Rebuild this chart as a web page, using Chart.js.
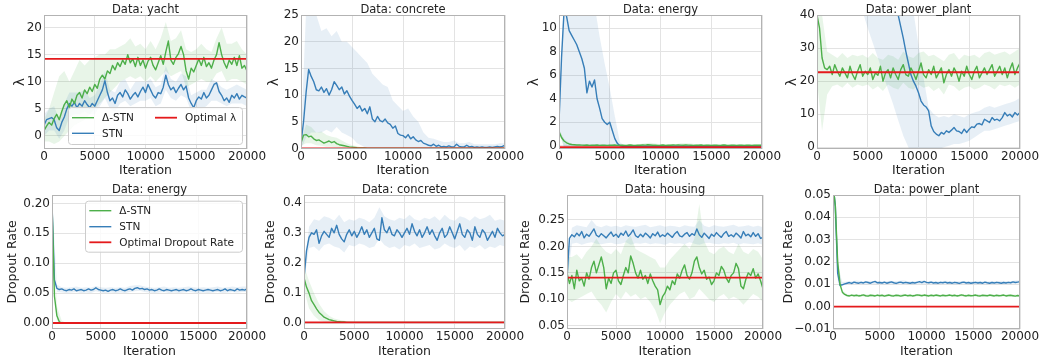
<!DOCTYPE html>
<html><head><meta charset="utf-8">
<script src="https://cdn.jsdelivr.net/npm/chart.js@4/dist/chart.umd.min.js"></script>
<style>
html,body{margin:0;padding:0;background:#fff;}
#fig{position:relative;width:1052px;height:360px;overflow:hidden;background:#fff;}
#fig canvas{position:absolute;}
</style></head><body><div id="fig"></div>
<script>
// ---------------- shared categories / ticks ----------------
const iterations = [
 0,250,500,750,1000,1250,1500,1750,2000,2250,
 2500,2750,3000,3250,3500,3750,4000,4250,4500,4750,
 5000,5250,5500,5750,6000,6250,6500,6750,7000,7250,
 7500,7750,8000,8250,8500,8750,9000,9250,9500,9750,
 10000,10250,10500,10750,11000,11250,11500,11750,12000,12250,
 12500,12750,13000,13250,13500,13750,14000,14250,14500,14750,
 15000,15250,15500,15750,16000,16250,16500,16750,17000,17250,
 17500,17750,18000,18250,18500,18750,19000,19250,19500,19750,
 20000];
const bandIterations = [
 0,500,1000,1500,2000,2500,3000,3500,4000,4500,
 5000,5500,6000,6500,7000,7500,8000,8500,9000,9500,
 10000,10500,11000,11500,12000,12500,13000,13500,14000,14500,
 15000,15500,16000,16500,17000,17500,18000,18500,19000,19500,
 20000];
const xTicks = [0, 5000, 10000, 15000, 20000];
const xTickLabels = ['0', '5000', '10000', '15000', '20000'];
const seriesNames = ['Δ-STN', 'STN'];

// ---------------- yacht (lambda) ----------------
const yachtDelta = [
 1.0, 1.8, 2.5, 2.0, 3.2, 4.0, 3.0, 4.5, 5.8, 6.5,
 5.2, 6.8, 6.0, 7.5, 8.0, 7.0, 8.5, 7.8, 9.0, 8.2,
 9.5, 8.8, 10.5, 11.2, 10.5, 12.0, 11.5, 13.0, 12.2, 13.5,
 12.8, 14.0, 13.2, 15.0, 13.5, 14.2, 12.8, 14.5, 13.0, 14.0,
 12.5, 13.8, 14.5, 13.0, 12.2, 13.5, 14.8, 13.2, 15.5, 17.5,
 14.0, 13.2, 14.5, 15.2, 16.5, 15.0, 12.0, 10.5, 12.5, 11.8,
 13.0, 14.2, 13.0, 14.5, 12.8, 13.5, 12.5, 14.0, 15.0, 17.2,
 15.0, 13.5, 12.5, 14.0, 13.2, 14.5, 13.0, 14.8, 12.5, 13.0,
 12.0];
const yachtStn = [
 2.0, 3.0, 3.2, 3.4, 3.0, 1.5, 1.0, 2.5, 3.5, 5.0,
 6.0, 5.5, 6.2, 5.2, 6.0, 5.5, 6.5, 5.8, 5.2, 6.0,
 5.5, 6.5, 7.5, 8.5, 10.2, 8.0, 6.5, 7.0, 6.0, 7.5,
 8.0, 7.2, 8.5, 7.8, 6.8, 7.5, 8.0, 7.2, 8.2, 9.0,
 8.0, 9.5, 8.5, 7.5, 7.0, 8.0, 7.8, 9.0, 11.2, 9.5,
 8.5, 9.0, 8.0, 8.8, 9.5, 8.5, 9.2, 7.0, 6.0, 5.2,
 6.5, 7.2, 6.8, 8.0, 7.0, 7.5, 8.5, 9.5, 9.8, 8.2,
 7.5, 6.5, 7.0, 6.2, 7.5, 7.0, 7.8, 6.8, 7.5, 7.2,
 7.0];
const yachtDeltaLo = [
 -1, -1, -1.5, -1, 0, 1, 2, 2.5, 3, 4,
 5, 6, 7, 8, 9, 10, 10.5, 11, 10.5, 11,
 10, 11, 10, 11, 12, 11, 11.5, 12, 9, 9.5,
 10, 10.5, 10, 10, 11.5, 12, 10, 10.5, 10.5, 10,
 9.5];
const yachtDeltaHi = [
 3, 5, 8, 11, 12, 10, 12, 14, 13, 14,
 14.5, 15, 15, 16, 16, 16.5, 17, 18, 16.5, 17,
 16, 17.5, 16, 18, 21, 17.5, 18, 19.5, 16, 15.5,
 16, 17, 16, 15.5, 18, 20, 17, 17, 17.5, 16,
 15];
const yachtStnLo = [
 0, 1, 1, -0.5, 1, 3.5, 4, 4, 4.5, 4,
 4, 5.5, 7, 5, 4.5, 6, 6.5, 5.5, 6, 6.5,
 6.5, 7, 5.5, 6, 8.5, 7, 6.5, 7.5, 7, 4.5,
 5, 5, 5.5, 6.5, 6.5, 6, 5.5, 6, 6, 6,
 5.5];
const yachtStnHi = [
 4, 5, 5.5, 3, 6, 8, 8, 8, 8.5, 7,
 7.5, 9.5, 12, 8.5, 8, 10, 10.5, 8.5, 10, 10,
 10, 10.5, 9, 9.5, 13, 10.5, 10, 11.5, 11, 7.5,
 8, 8.5, 8.5, 10.5, 10, 9, 8.5, 9, 9.5, 9,
 8.5];
const yachtOptimal = 14.2;
const yachtTicks = [0, 5, 10, 15, 20];
const yachtTickLabels = ['0', '5', '10', '15', '20'];

// ---------------- concrete (lambda) ----------------
const concreteStn = [
 1.0, 5.0, 10.5, 14.8, 13.5, 12.5, 11.0, 10.8, 11.5, 10.5,
 11.2, 10.0, 11.0, 12.5, 11.8, 11.0, 11.5, 10.2, 10.8, 9.8,
 9.0, 8.3, 7.5, 8.0, 7.0, 7.5, 6.5, 7.8, 5.5, 5.0,
 6.0, 5.2, 5.0, 5.5, 4.8, 4.5, 3.8, 4.2, 2.8, 2.5,
 2.4, 2.0, 2.6, 1.8, 2.2, 1.6, 1.3, 1.5, 1.0, 0.8,
 0.6, 0.5, 0.8, 0.4, 0.6, 0.3, 0.4, 0.3, 0.5, 0.3,
 0.3, 0.8, 0.4, 0.3, 0.3, 0.6, 0.3, 0.4, 0.2, 0.3,
 0.2, 0.3, 0.2, 0.2, 0.3, 0.2, 0.3, 0.4, 0.3, 0.4,
 0.6];
const concreteDelta = [
 1.0, 2.5, 2.6, 2.2, 2.3, 1.8, 1.5, 1.6, 1.3, 1.0,
 1.2, 1.4, 1.1, 1.3, 0.9, 0.7, 0.6, 0.5, 0.4, 0.3,
 0.25, 0.2, 0.15, 0.12, 0.1, 0.08, 0.07, 0.06, 0.05, 0.06,
 0.05, 0.04, 0.05, 0.06, 0.04, 0.05, 0.04, 0.05, 0.06, 0.05,
 0.04, 0.05, 0.06, 0.05, 0.04, 0.05, 0.05, 0.04, 0.06, 0.05,
 0.05, 0.04, 0.05, 0.06, 0.04, 0.05, 0.04, 0.05, 0.06, 0.05,
 0.04, 0.05, 0.05, 0.06, 0.04, 0.05, 0.04, 0.06, 0.05, 0.04,
 0.05, 0.04, 0.05, 0.06, 0.04, 0.05, 0.05, 0.04, 0.06, 0.05,
 0.05];
const concreteStnLo = [
 0, 2, 3, 3, 3, 3.5, 3, 4, 3, 2.5,
 2, 1, 0.5, 0, 0, 0, 0, 0, 0, 0,
 0, 0, 0, 0, 0, 0, 0, 0, 0, 0,
 0, 0, 0, 0, 0, 0, 0, 0, 0, 0,
 0];
const concreteStnHi = [
 2, 26, 26, 25, 22, 22.5, 21, 22, 20, 20,
 19, 18, 17, 16, 14, 13, 12, 11.5, 9, 8,
 7, 7.5, 6, 5, 3, 2, 1.8, 1.5, 1.2, 1.2,
 1.5, 1.0, 1.0, 1.2, 0.8, 0.8, 0.8, 0.8, 0.8, 1.0,
 1.0];
const concreteDeltaLo = [
 0.5, 1, 1, 0.6, 0.5, 0.3, 0.3, 0.2, 0.1, 0,
 0, 0, 0, 0, 0, 0, 0, 0, 0, 0,
 0, 0, 0, 0, 0, 0, 0, 0, 0, 0,
 0, 0, 0, 0, 0, 0, 0, 0, 0, 0,
 0];
const concreteDeltaHi = [
 1.5, 4.5, 4.0, 3.0, 3.2, 2.5, 2.2, 2.0, 1.5, 1.0,
 0.6, 0.4, 0.2, 0.1, 0.1, 0.1, 0.1, 0.1, 0.1, 0.1,
 0.1, 0.1, 0.1, 0.1, 0.1, 0.1, 0.1, 0.1, 0.1, 0.1,
 0.1, 0.1, 0.1, 0.1, 0.1, 0.1, 0.1, 0.1, 0.1, 0.1,
 0.1];
const concreteOptimal = 0;
const concreteTicks = [0, 5, 10, 15, 20, 25];
const concreteTickLabels = ['0', '5', '10', '15', '20', '25'];

// ---------------- energy (lambda) ----------------
const energyStn = [
 2.0, 7.5, 11.5, 11.0, 9.8, 9.4, 9.0, 8.6, 8.0, 7.4,
 6.6, 4.5, 5.5, 5.0, 5.6, 4.0, 3.2, 2.3, 2.0, 1.8,
 2.0, 1.3, 0.6, 0.2, 0.0, -0.05, -0.05, -0.05, -0.05, -0.05,
 -0.05, -0.05, -0.05, -0.05, -0.05, -0.05, -0.05, -0.05, -0.05, -0.05,
 -0.05, -0.05, -0.05, -0.05, -0.05, -0.05, -0.05, -0.05, -0.05, -0.05,
 -0.05, -0.05, -0.05, -0.05, -0.05, -0.05, -0.05, -0.05, -0.05, -0.05,
 -0.05, -0.05, -0.05, -0.05, -0.05, -0.05, -0.05, -0.05, -0.05, -0.05,
 -0.05, -0.05, -0.05, -0.05, -0.05, -0.05, -0.05, -0.05, -0.05, -0.05,
 -0.05];
const energyDelta = [
 1.2, 0.7, 0.4, 0.25, 0.15, 0.10, 0.08, 0.06, 0.07, 0.05,
 0.04, 0.06, 0.03, 0.05, 0.04, 0.06, 0.03, 0.05, 0.04, 0.03,
 0.05, 0.04, 0.06, 0.03, 0.04, 0.05, 0.03, 0.04, 0.06, 0.04,
 0.03, 0.05, 0.04, 0.06, 0.05, 0.08, 0.06, 0.04, 0.05, 0.03,
 0.04, 0.06, 0.03, 0.05, 0.04, 0.06, 0.05, 0.07, 0.05, 0.04,
 0.06, 0.05, 0.04, 0.03, 0.05, 0.04, 0.06, 0.03, 0.04, 0.05,
 0.03, 0.04, 0.05, 0.03, 0.04, 0.06, 0.04, 0.03, 0.05, 0.04,
 0.03, 0.05, 0.04, 0.03, 0.04, 0.05, 0.03, 0.04, 0.05, 0.04,
 0.04];
const energyStnLo = [
 1.5, -0.3, -0.3, -0.3, -0.3, -0.3, -0.3, -0.3, -0.3, -0.3,
 -0.3, -0.3, -0.3, -0.3, -0.3, -0.3, -0.3, -0.3, -0.3, -0.3,
 -0.3, -0.3, -0.3, -0.3, -0.3, -0.3, -0.3, -0.3, -0.3, -0.3,
 -0.3, -0.3, -0.3, -0.3, -0.3, -0.3, -0.3, -0.3, -0.3, -0.3,
 -0.3];
const energyStnHi = [
 2.5, 13, 14, 14, 14, 14, 13, 12, 9.3, 7.0,
 4.9, 2.5, 0.3, 0, 0, 0, 0, 0, 0, 0,
 0, 0, 0, 0, 0, 0, 0, 0, 0, 0,
 0, 0, 0, 0, 0, 0, 0, 0, 0, 0,
 0];
const energyDeltaLo = [
 1.0, -0.05, -0.05, -0.05, -0.05, -0.05, -0.05, -0.05, -0.05, -0.05,
 -0.05, -0.05, -0.05, -0.05, -0.05, -0.05, -0.05, -0.05, -0.05, -0.05,
 -0.05, -0.05, -0.05, -0.05, -0.05, -0.05, -0.05, -0.05, -0.05, -0.05,
 -0.05, -0.05, -0.05, -0.05, -0.05, -0.05, -0.05, -0.05, -0.05, -0.05,
 -0.05];
const energyDeltaHi = [
 1.4, 0.6, 0.25, 0.15, 0.12, 0.1, 0.12, 0.1, 0.12, 0.1,
 0.1, 0.12, 0.1, 0.1, 0.12, 0.1, 0.15, 0.2, 0.25, 0.18,
 0.12, 0.1, 0.15, 0.12, 0.2, 0.22, 0.18, 0.12, 0.1, 0.12,
 0.1, 0.12, 0.1, 0.1, 0.12, 0.1, 0.1, 0.12, 0.1, 0.12,
 0.1];
const energyOptimal = -0.12;
const energyTicks = [0, 2, 4, 6, 8, 10];
const energyTickLabels = ['0', '2', '4', '6', '8', '10'];

// ---------------- power_plant (lambda) ----------------
const powerStn = [
 55, 72, 85, 92, 95, 96, 95, 93, 91, 89,
 87, 85, 82, 80, 78, 75, 73, 70, 68, 66,
 63, 61, 59, 57, 55, 53, 51, 49, 47, 46,
 44, 42, 40, 36.5, 33, 29, 25.5, 22, 20, 18.5,
 16.5, 14, 12.8, 12.2, 11, 6.5, 4.8, 4, 3.5, 4.5,
 4, 5, 4.5, 5.2, 6, 5, 4.8, 4.2, 5.5, 4.5,
 5.5, 6.2, 6, 7, 7.2, 6.8, 8.5, 8, 7.5, 9,
 8.2, 8.5, 8, 9, 10.5, 9.5, 10, 9.2, 10.5, 9.8,
 10.5];
const powerDelta = [
 40.0, 36.0, 27.0, 24.0, 23.5, 24.5, 22.0, 25.0, 23.0, 21.5,
 24.0, 22.5, 21.0, 24.5, 22.0, 20.5, 23.0, 25.0, 21.5, 23.0,
 22.0, 24.0, 20.5, 22.5, 21.8, 24.5, 20.0, 22.5, 23.5, 21.0,
 24.0, 22.0, 20.5, 23.5, 25.0, 22.0, 21.5, 24.0, 22.5, 20.5,
 23.0, 25.5, 22.0, 21.0, 23.5, 22.0, 24.5, 21.0, 22.5, 24.0,
 19.5, 22.0, 23.5, 21.5, 24.0, 22.5, 20.0, 23.0, 21.5, 24.5,
 22.0, 20.5, 23.0, 24.5, 21.0, 22.5, 24.0, 22.0, 23.5, 25.0,
 21.5, 23.0, 24.5, 22.0, 24.0, 21.0, 23.5, 25.5, 22.0, 24.0,
 25.5];
const powerStnLo = [
 90, 85, 80, 72, 66, 60, 55, 50, 46, 41,
 36, 31.5, 27, 22, 17.5, 13, 8.2, 3.5, 0, -2,
 -3, -3, -2, -1, -0.5, 0, 0.5, 1, 1, 1.5,
 2, 3, 4, 5, 5, 5.5, 6, 6.5, 7, 7.5,
 8];
const powerStnHi = [
 100, 100, 100, 100, 100, 100, 100, 100, 100, 100,
 100, 100, 100, 100, 100, 100, 100, 100, 55, 41,
 31, 21, 12, 10, 9, 9.5, 9, 10, 9.5, 9,
 10, 10.5, 11, 12, 12.5, 12, 12.5, 13, 13.5, 14,
 15];
const powerDeltaLo = [
 20, 5, 16, 18.5, 19, 18, 19.5, 18, 19, 18.5,
 19, 17.5, 18.5, 17, 19, 18, 17.5, 19.5, 18, 17.5,
 19, 18, 18.5, 17, 18, 16, 19, 18.5, 17, 18,
 18.5, 17.5, 18, 19, 18.5, 17.5, 19, 18.5, 19, 18,
 19];
const powerDeltaHi = [
 42, 40, 29, 28, 27, 28.5, 27, 28, 27.5, 28,
 27, 28.5, 27, 26.5, 28, 27.5, 26.5, 29, 27.5, 27,
 28.5, 29, 27.5, 28, 27, 26, 28, 28.5, 26.5, 28,
 27.5, 28, 27, 28.5, 29, 28, 28.5, 29, 28, 29,
 30];
const powerOptimal = 22.7;
const powerTicks = [0, 10, 20, 30, 40];
const powerTickLabels = ['0', '10', '20', '30', '40'];

// ---------------- energy (dropout) ----------------
const energyDropStn = [
 0.200, 0.072, 0.058, 0.056, 0.057, 0.055, 0.054, 0.056, 0.055, 0.057,
 0.054, 0.055, 0.056, 0.054, 0.055, 0.057, 0.055, 0.056, 0.059, 0.056,
 0.055, 0.054, 0.055, 0.053, 0.055, 0.056, 0.054, 0.055, 0.057, 0.055,
 0.054, 0.056, 0.057, 0.055, 0.058, 0.059, 0.057, 0.058, 0.056, 0.057,
 0.055, 0.056, 0.054, 0.055, 0.057, 0.055, 0.054, 0.056, 0.055, 0.054,
 0.055, 0.056, 0.054, 0.055, 0.056, 0.054, 0.055, 0.057, 0.055, 0.054,
 0.056, 0.055, 0.054, 0.055, 0.056, 0.055, 0.054, 0.055, 0.056, 0.054,
 0.055, 0.057, 0.054, 0.056, 0.055, 0.054, 0.057, 0.055, 0.056, 0.055,
 0.057];
const energyDropDelta = [
 0.200, 0.045, 0.012, 0.002, 0, 0, 0, 0, 0, 0,
 0, 0, 0, 0, 0, 0, 0, 0, 0, 0,
 0, 0, 0, 0, 0, 0, 0, 0, 0, 0,
 0, 0, 0, 0, 0, 0, 0, 0, 0, 0,
 0, 0, 0, 0, 0, 0, 0, 0, 0, 0,
 0, 0, 0, 0, 0, 0, 0, 0, 0, 0,
 0, 0, 0, 0, 0, 0, 0, 0, 0, 0,
 0, 0, 0, 0, 0, 0, 0, 0, 0, 0,
 0];
const energyDropStnLo = [
 0.190, 0.052, 0.051, 0.050, 0.051, 0.052, 0.050, 0.051, 0.050, 0.053,
 0.051, 0.050, 0.051, 0.050, 0.051, 0.050, 0.052, 0.053, 0.054, 0.052,
 0.051, 0.050, 0.051, 0.052, 0.050, 0.051, 0.050, 0.051, 0.052, 0.051,
 0.050, 0.051, 0.050, 0.051, 0.052, 0.050, 0.051, 0.052, 0.051, 0.052,
 0.052];
const energyDropStnHi = [
 0.210, 0.064, 0.060, 0.059, 0.060, 0.061, 0.059, 0.060, 0.059, 0.062,
 0.060, 0.059, 0.060, 0.059, 0.060, 0.059, 0.062, 0.063, 0.063, 0.061,
 0.060, 0.059, 0.060, 0.061, 0.059, 0.060, 0.059, 0.060, 0.061, 0.060,
 0.059, 0.060, 0.059, 0.060, 0.061, 0.059, 0.060, 0.061, 0.060, 0.061,
 0.061];
const energyDropDeltaLo = [
 0.185, 0.004, 0, 0, 0, 0, 0, 0, 0, 0,
 0, 0, 0, 0, 0, 0, 0, 0, 0, 0,
 0, 0, 0, 0, 0, 0, 0, 0, 0, 0,
 0, 0, 0, 0, 0, 0, 0, 0, 0, 0,
 0];
const energyDropDeltaHi = [
 0.210, 0.028, 0.004, 0, 0, 0, 0, 0, 0, 0,
 0, 0, 0, 0, 0, 0, 0, 0, 0, 0,
 0, 0, 0, 0, 0, 0, 0, 0, 0, 0,
 0, 0, 0, 0, 0, 0, 0, 0, 0, 0,
 0];
const energyDropOptimal = 0;
const energyDropTicks = [0, 0.05, 0.10, 0.15, 0.20];
const energyDropTickLabels = ['0.00', '0.05', '0.10', '0.15', '0.20'];

// ---------------- concrete (dropout) ----------------
const concreteDropStn = [
 0.150, 0.240, 0.285, 0.300, 0.295, 0.310, 0.265, 0.290, 0.305, 0.295,
 0.285, 0.315, 0.300, 0.325, 0.295, 0.280, 0.270, 0.295, 0.310, 0.290,
 0.305, 0.285, 0.300, 0.320, 0.295, 0.310, 0.285, 0.300, 0.315, 0.280,
 0.275, 0.350, 0.310, 0.300, 0.320, 0.295, 0.290, 0.310, 0.300, 0.285,
 0.300, 0.315, 0.295, 0.330, 0.305, 0.290, 0.310, 0.285, 0.300, 0.320,
 0.295, 0.310, 0.290, 0.275, 0.300, 0.315, 0.285, 0.295, 0.320, 0.300,
 0.280, 0.305, 0.330, 0.295, 0.285, 0.310, 0.300, 0.275, 0.320, 0.295,
 0.285, 0.310, 0.300, 0.275, 0.290, 0.305, 0.285, 0.315, 0.300, 0.290,
 0.295];
const concreteDropDelta = [
 0.150, 0.120, 0.100, 0.075, 0.062, 0.048, 0.036, 0.028, 0.020, 0.016,
 0.012, 0.010, 0.008, 0.006, 0.005, 0.004, 0.004, 0.003, 0.003, 0.003,
 0.003, 0.003, 0.003, 0.003, 0.003, 0.003, 0.003, 0.003, 0.003, 0.003,
 0.003, 0.003, 0.003, 0.003, 0.003, 0.003, 0.003, 0.003, 0.003, 0.003,
 0.003, 0.003, 0.003, 0.003, 0.003, 0.003, 0.003, 0.003, 0.003, 0.003,
 0.003, 0.003, 0.003, 0.003, 0.003, 0.003, 0.003, 0.003, 0.003, 0.003,
 0.003, 0.003, 0.003, 0.003, 0.003, 0.003, 0.003, 0.003, 0.003, 0.003,
 0.003, 0.003, 0.003, 0.003, 0.003, 0.003, 0.003, 0.003, 0.003, 0.003,
 0.003];
const concreteDropStnLo = [
 0.140, 0.250, 0.255, 0.240, 0.260, 0.265, 0.255, 0.250, 0.235, 0.260,
 0.255, 0.265, 0.260, 0.250, 0.255, 0.280, 0.260, 0.250, 0.255, 0.245,
 0.260, 0.255, 0.265, 0.250, 0.255, 0.260, 0.245, 0.250, 0.265, 0.255,
 0.250, 0.260, 0.240, 0.255, 0.250, 0.260, 0.245, 0.255, 0.250, 0.260,
 0.255];
const concreteDropStnHi = [
 0.160, 0.320, 0.345, 0.340, 0.355, 0.350, 0.340, 0.360, 0.335, 0.345,
 0.340, 0.350, 0.345, 0.335, 0.350, 0.385, 0.355, 0.345, 0.340, 0.350,
 0.345, 0.360, 0.345, 0.340, 0.350, 0.345, 0.355, 0.340, 0.360, 0.345,
 0.340, 0.355, 0.350, 0.340, 0.355, 0.345, 0.350, 0.360, 0.340, 0.345,
 0.340];
const concreteDropDeltaLo = [
 0.110, 0.050, 0.025, 0.010, 0.005, 0.002, 0.001, 0.001, 0.001, 0.001,
 0.001, 0.001, 0.001, 0.001, 0.001, 0.001, 0.001, 0.001, 0.001, 0.001,
 0.001, 0.001, 0.001, 0.001, 0.001, 0.001, 0.001, 0.001, 0.001, 0.001,
 0.001, 0.001, 0.001, 0.001, 0.001, 0.001, 0.001, 0.001, 0.001, 0.001,
 0.001];
const concreteDropDeltaHi = [
 0.190, 0.140, 0.100, 0.065, 0.040, 0.025, 0.016, 0.012, 0.008, 0.006,
 0.004, 0.004, 0.004, 0.004, 0.004, 0.004, 0.004, 0.004, 0.004, 0.004,
 0.004, 0.004, 0.004, 0.004, 0.004, 0.004, 0.004, 0.004, 0.004, 0.004,
 0.004, 0.004, 0.004, 0.004, 0.004, 0.004, 0.004, 0.004, 0.004, 0.004,
 0.004];
const concreteDropOptimal = 0.003;
const concreteDropTicks = [0, 0.1, 0.2, 0.3, 0.4];
const concreteDropTickLabels = ['0.0', '0.1', '0.2', '0.3', '0.4'];

// ---------------- housing (dropout) ----------------
const housingStn = [
 0.140, 0.215, 0.222, 0.218, 0.225, 0.220, 0.228, 0.216, 0.223, 0.219,
 0.226, 0.233, 0.221, 0.218, 0.224, 0.220, 0.216, 0.222, 0.227, 0.219,
 0.223, 0.217, 0.225, 0.221, 0.229, 0.219, 0.224, 0.231, 0.220, 0.217,
 0.223, 0.218, 0.225, 0.221, 0.216, 0.224, 0.220, 0.227, 0.218, 0.222,
 0.219, 0.225, 0.221, 0.217, 0.224, 0.228, 0.220, 0.218, 0.223, 0.226,
 0.219, 0.224, 0.221, 0.233, 0.222, 0.217, 0.225, 0.220, 0.215, 0.223,
 0.219, 0.226, 0.221, 0.217, 0.224, 0.228, 0.219, 0.222, 0.218, 0.225,
 0.221, 0.216, 0.228, 0.220, 0.223, 0.218, 0.226, 0.219, 0.224, 0.215,
 0.217];
const housingDelta = [
 0.150, 0.130, 0.145, 0.120, 0.155, 0.135, 0.140, 0.125, 0.150, 0.138,
 0.160, 0.172, 0.150, 0.165, 0.180, 0.160, 0.120, 0.140, 0.130, 0.150,
 0.155, 0.135, 0.128, 0.145, 0.160, 0.150, 0.182, 0.168, 0.150, 0.140,
 0.155, 0.138, 0.145, 0.130, 0.148, 0.135, 0.125, 0.118, 0.090, 0.105,
 0.112, 0.125, 0.118, 0.135, 0.128, 0.148, 0.140, 0.155, 0.165, 0.145,
 0.138, 0.150, 0.172, 0.180, 0.160, 0.148, 0.155, 0.138, 0.142, 0.128,
 0.135, 0.150, 0.145, 0.162, 0.155, 0.140, 0.132, 0.145, 0.150, 0.168,
 0.158, 0.125, 0.120, 0.138, 0.150, 0.145, 0.158, 0.140, 0.148, 0.135,
 0.120];
const housingStnLo = [
 0.130, 0.205, 0.207, 0.203, 0.206, 0.208, 0.205, 0.204, 0.206, 0.207,
 0.204, 0.205, 0.208, 0.203, 0.206, 0.205, 0.207, 0.204, 0.206, 0.205,
 0.203, 0.207, 0.205, 0.206, 0.204, 0.208, 0.205, 0.203, 0.206, 0.207,
 0.205, 0.204, 0.206, 0.205, 0.207, 0.203, 0.206, 0.205, 0.204, 0.206,
 0.203];
const housingStnHi = [
 0.150, 0.235, 0.240, 0.238, 0.236, 0.250, 0.239, 0.236, 0.240, 0.237,
 0.239, 0.236, 0.240, 0.238, 0.237, 0.239, 0.241, 0.236, 0.238, 0.240,
 0.237, 0.239, 0.238, 0.236, 0.240, 0.238, 0.237, 0.250, 0.239, 0.236,
 0.240, 0.238, 0.237, 0.239, 0.241, 0.237, 0.238, 0.240, 0.237, 0.239,
 0.236];
const housingDeltaLo = [
 0.100, 0.095, 0.100, 0.105, 0.110, 0.115, 0.100, 0.090, 0.075, 0.095,
 0.110, 0.100, 0.115, 0.105, 0.110, 0.100, 0.105, 0.095, 0.080, 0.055,
 0.075, 0.090, 0.100, 0.110, 0.115, 0.100, 0.105, 0.120, 0.110, 0.100,
 0.095, 0.105, 0.110, 0.100, 0.105, 0.100, 0.090, 0.100, 0.110, 0.105,
 0.095];
const housingDeltaHi = [
 0.180, 0.180, 0.185, 0.175, 0.190, 0.200, 0.215, 0.200, 0.190, 0.185,
 0.195, 0.185, 0.210, 0.220, 0.195, 0.190, 0.185, 0.180, 0.175, 0.160,
 0.160, 0.175, 0.185, 0.195, 0.205, 0.195, 0.215, 0.280, 0.210, 0.190,
 0.185, 0.195, 0.200, 0.190, 0.185, 0.205, 0.190, 0.185, 0.195, 0.190,
 0.175];
const housingOptimal = 0.141;
const housingTicks = [0.05, 0.10, 0.15, 0.20, 0.25];
const housingTickLabels = ['0.05', '0.10', '0.15', '0.20', '0.25'];

// ---------------- power_plant (dropout) ----------------
const powerDropStn = [
 0.0550, 0.0450, 0.0150, 0.0095, 0.0098, 0.0102, 0.0105, 0.0108, 0.0104, 0.0110,
 0.0107, 0.0105, 0.0109, 0.0106, 0.0111, 0.0108, 0.0105, 0.0110, 0.0113, 0.0107,
 0.0108, 0.0106, 0.0110, 0.0105, 0.0108, 0.0111, 0.0107, 0.0104, 0.0108, 0.0110,
 0.0106, 0.0109, 0.0107, 0.0105, 0.0108, 0.0106, 0.0109, 0.0112, 0.0108, 0.0113,
 0.0109, 0.0107, 0.0110, 0.0106, 0.0108, 0.0105, 0.0109, 0.0107, 0.0110, 0.0106,
 0.0108, 0.0105, 0.0109, 0.0107, 0.0104, 0.0108, 0.0110, 0.0106, 0.0108, 0.0105,
 0.0107, 0.0109, 0.0106, 0.0108, 0.0105, 0.0110, 0.0107, 0.0105, 0.0108, 0.0106,
 0.0109, 0.0107, 0.0105, 0.0108, 0.0106, 0.0109, 0.0107, 0.0111, 0.0108, 0.0110,
 0.0112];
const powerDropDelta = [
 0.0550, 0.0450, 0.0200, 0.0100, 0.0065, 0.0055, 0.0050, 0.0048, 0.0052, 0.0049,
 0.0051, 0.0048, 0.0050, 0.0053, 0.0049, 0.0047, 0.0051, 0.0050, 0.0048, 0.0052,
 0.0049, 0.0051, 0.0047, 0.0050, 0.0052, 0.0049, 0.0048, 0.0051, 0.0050, 0.0047,
 0.0050, 0.0052, 0.0049, 0.0051, 0.0048, 0.0050, 0.0053, 0.0051, 0.0049, 0.0052,
 0.0050, 0.0048, 0.0051, 0.0049, 0.0052, 0.0050, 0.0048, 0.0051, 0.0049, 0.0050,
 0.0052, 0.0049, 0.0051, 0.0048, 0.0050, 0.0053, 0.0050, 0.0048, 0.0051, 0.0049,
 0.0050, 0.0052, 0.0049, 0.0048, 0.0051, 0.0050, 0.0049, 0.0052, 0.0050, 0.0048,
 0.0051, 0.0049, 0.0050, 0.0052, 0.0048, 0.0050, 0.0051, 0.0049, 0.0047, 0.0050,
 0.0048];
const powerDropStnLo = [
 0.053, 0.012, 0.0099, 0.0101, 0.0100, 0.0103, 0.0101, 0.0099, 0.0102, 0.0100,
 0.0101, 0.0099, 0.0102, 0.0100, 0.0101, 0.0103, 0.0100, 0.0099, 0.0101, 0.0102,
 0.0100, 0.0101, 0.0099, 0.0100, 0.0102, 0.0101, 0.0099, 0.0100, 0.0101, 0.0099,
 0.0100, 0.0102, 0.0100, 0.0099, 0.0101, 0.0100, 0.0102, 0.0101, 0.0100, 0.0103,
 0.0104];
const powerDropStnHi = [
 0.057, 0.018, 0.0110, 0.0113, 0.0114, 0.0117, 0.0115, 0.0113, 0.0116, 0.0114,
 0.0115, 0.0113, 0.0116, 0.0114, 0.0115, 0.0118, 0.0114, 0.0113, 0.0115, 0.0117,
 0.0114, 0.0115, 0.0113, 0.0114, 0.0116, 0.0115, 0.0113, 0.0114, 0.0115, 0.0113,
 0.0114, 0.0116, 0.0114, 0.0113, 0.0115, 0.0114, 0.0116, 0.0115, 0.0114, 0.0117,
 0.0119];
const powerDropDeltaLo = [
 0.053, 0.017, 0.0058, 0.0045, 0.0044, 0.0046, 0.0045, 0.0043, 0.0046, 0.0044,
 0.0045, 0.0043, 0.0046, 0.0044, 0.0045, 0.0047, 0.0044, 0.0043, 0.0045, 0.0046,
 0.0044, 0.0045, 0.0043, 0.0044, 0.0046, 0.0045, 0.0043, 0.0044, 0.0045, 0.0043,
 0.0044, 0.0046, 0.0044, 0.0043, 0.0045, 0.0044, 0.0046, 0.0045, 0.0044, 0.0043,
 0.0043];
const powerDropDeltaHi = [
 0.057, 0.023, 0.0075, 0.0056, 0.0055, 0.0057, 0.0056, 0.0054, 0.0057, 0.0055,
 0.0056, 0.0054, 0.0057, 0.0055, 0.0056, 0.0058, 0.0055, 0.0054, 0.0056, 0.0057,
 0.0055, 0.0056, 0.0054, 0.0055, 0.0057, 0.0056, 0.0054, 0.0055, 0.0056, 0.0054,
 0.0055, 0.0057, 0.0055, 0.0054, 0.0056, 0.0055, 0.0057, 0.0056, 0.0055, 0.0054,
 0.0054];
const powerDropOptimal = 0;
const powerDropTicks = [-0.01, 0, 0.01, 0.02, 0.03, 0.04, 0.05];
const powerDropTickLabels = ['\u22120.01', '0.00', '0.01', '0.02', '0.03', '0.04', '0.05'];

// ---------------- styling ----------------
const GREEN = '#4daf4a', BLUE = '#377eb8', RED = '#e41a1c';
const GREEN_BAND = 'rgba(77,175,74,0.13)', BLUE_BAND = 'rgba(55,126,184,0.12)';
const TXT = '#222222', GRID = '#e3e3e3', FRAME = '#b3b3b3';
const FAMILY = '"DejaVu Sans", "Liberation Sans", sans-serif';
Chart.defaults.font.family = FAMILY;

const panels = [
 {title:'Data: yacht', yTitle:'λ', canvas:[0,0,272,180], plot:[44,15,247,149], yMin:-2.4, yMax:22.3,
  yTicks:yachtTicks, yLabels:yachtTickLabels, delta:yachtDelta, stn:yachtStn, dLo:yachtDeltaLo, dHi:yachtDeltaHi,
  sLo:yachtStnLo, sHi:yachtStnHi, opt:yachtOptimal, yTitleSize:14, yTitlePad:11.9, xTitlePad:1.5,
  legend:{box:[24,92,174,37], rows:[[0,4,10.7],[1,4,26.3],[2,87,10.7]], optName:'Optimal λ'}},
 {title:'Data: concrete', yTitle:'λ', canvas:[263,0,530,180], plot:[301,15,505,149], yMin:-0.1, yMax:25,
  yTicks:concreteTicks, yLabels:concreteTickLabels, delta:concreteDelta, stn:concreteStn, dLo:concreteDeltaLo, dHi:concreteDeltaHi,
  sLo:concreteStnLo, sHi:concreteStnHi, opt:concreteOptimal, yTitleSize:14, yTitlePad:3.3, xTitlePad:1.5},
 {title:'Data: energy', yTitle:'λ', canvas:[522,0,787,180], plot:[559,15,762,149], yMin:-0.28, yMax:11.13,
  yTicks:energyTicks, yLabels:energyTickLabels, delta:energyDelta, stn:energyStn, dLo:energyDeltaLo, dHi:energyDeltaHi,
  sLo:energyStnLo, sHi:energyStnHi, opt:energyOptimal, yTitleSize:14, yTitlePad:3.6, xTitlePad:1.5},
 {title:'Data: power_plant', yTitle:'λ', canvas:[780,0,1046,180], plot:[817,15,1020,149], yMin:-0.5, yMax:40,
  yTicks:powerTicks, yLabels:powerTickLabels, delta:powerDelta, stn:powerStn, dLo:powerDeltaLo, dHi:powerDeltaHi,
  sLo:powerStnLo, sHi:powerStnHi, opt:powerOptimal, yTitleSize:14, yTitlePad:3.6, xTitlePad:1.5},
 {title:'Data: energy', yTitle:'Dropout Rate', canvas:[0,180,272,360], plot:[52,195,247,329], yMin:-0.01, yMax:0.214,
  yTicks:energyDropTicks, yLabels:energyDropTickLabels, delta:energyDropDelta, stn:energyDropStn, dLo:energyDropDeltaLo, dHi:energyDropDeltaHi,
  sLo:energyDropStnLo, sHi:energyDropStnHi, opt:energyDropOptimal, yTitleSize:12.5, yTitlePad:5, xTitlePad:0.8,
  legend:{box:[33,5.7,157,51], rows:[[0,4.3,10],[1,4.3,26],[2,4.3,41.6]], optName:'Optimal Dropout Rate'}},
 {title:'Data: concrete', yTitle:'Dropout Rate', canvas:[263,180,530,360], plot:[304,195,505,329], yMin:-0.019, yMax:0.4255,
  yTicks:concreteDropTicks, yLabels:concreteDropTickLabels, delta:concreteDropDelta, stn:concreteDropStn, dLo:concreteDropDeltaLo, dHi:concreteDropDeltaHi,
  sLo:concreteDropStnLo, sHi:concreteDropStnHi, opt:concreteDropOptimal, yTitleSize:12.5, yTitlePad:0.5, xTitlePad:0.8},
 {title:'Data: housing', yTitle:'Dropout Rate', canvas:[518,180,788,360], plot:[567,195,763,329], yMin:0.044, yMax:0.297,
  yTicks:housingTicks, yLabels:housingTickLabels, delta:housingDelta, stn:housingStn, dLo:housingDeltaLo, dHi:housingDeltaHi,
  sLo:housingStnLo, sHi:housingStnHi, opt:housingOptimal, yTitleSize:12.5, yTitlePad:0.5, xTitlePad:0.8},
 {title:'Data: power_plant', yTitle:'Dropout Rate', canvas:[781,180,1046,360], plot:[833,195,1020,329], yMin:-0.01, yMax:0.05,
  yTicks:powerDropTicks, yLabels:powerDropTickLabels, delta:powerDropDelta, stn:powerDropStn, dLo:powerDropDeltaLo, dHi:powerDropDeltaHi,
  sLo:powerDropStnLo, sHi:powerDropStnHi, opt:powerDropOptimal, yTitleSize:12.5, yTitlePad:0.5, xTitlePad:0.8}
];

function pts(xs, ys) { return xs.map((x, i) => ({x: x, y: ys[i]})); }

function overlay(p) {
  return {
    id: 'overlay',
    afterDatasetsDraw(chart) {
      const ctx = chart.ctx, a = chart.chartArea;
      ctx.save();
      ctx.strokeStyle = FRAME; ctx.lineWidth = 1;
      ctx.strokeRect(a.left + 0.5, a.top + 0.5, a.right - a.left - 1, a.bottom - a.top - 1);
      ctx.restore();
    },
    afterDraw(chart) {
      const ctx = chart.ctx, a = chart.chartArea;
      ctx.save();
      ctx.font = '11.5px ' + FAMILY;
      ctx.fillStyle = TXT; ctx.textAlign = 'center'; ctx.textBaseline = 'alphabetic';
      ctx.fillText(p.title, (a.left + a.right) / 2, a.top - 2.3);
      if (p.legend) {
        const L = p.legend;
        const bx = a.left + L.box[0], by = a.top + L.box[1], bw = L.box[2], bh = L.box[3];
        ctx.beginPath();
        if (ctx.roundRect) ctx.roundRect(bx + 0.5, by + 0.5, bw, bh, 3); else ctx.rect(bx + 0.5, by + 0.5, bw, bh);
        ctx.fillStyle = 'rgba(255,255,255,0.8)'; ctx.fill();
        ctx.strokeStyle = '#cccccc'; ctx.lineWidth = 1; ctx.stroke();
        const names = [seriesNames[0], seriesNames[1], L.optName];
        const colors = [GREEN, BLUE, RED];
        ctx.font = '10.5px ' + FAMILY; ctx.textAlign = 'left'; ctx.textBaseline = 'middle';
        L.rows.forEach(r => {
          const k = r[0], x = bx + r[1], y = by + r[2];
          ctx.beginPath(); ctx.moveTo(x, y); ctx.lineTo(x + 22, y);
          ctx.strokeStyle = colors[k]; ctx.lineWidth = k === 2 ? 1.8 : 1.4; ctx.stroke();
          ctx.fillStyle = TXT; ctx.fillText(names[k], x + 30, y + 0.5);
        });
      }
      ctx.restore();
    }
  };
}

const fig = document.getElementById('fig');
panels.forEach(p => {
  const [CL, CT, CR, CB] = p.canvas, [PL, PT, PR, PB] = p.plot;
  const cv = document.createElement('canvas');
  cv.width = CR - CL; cv.height = CB - CT;
  cv.style.left = CL + 'px'; cv.style.top = CT + 'px';
  cv.style.width = (CR - CL) + 'px'; cv.style.height = (CB - CT) + 'px';
  fig.appendChild(cv);
  const hidden = 'rgba(0,0,0,0)';
  const datasets = [
    {label: 'dlo', data: pts(bandIterations, p.dLo), borderColor: hidden, borderWidth: 0, pointRadius: 0, fill: false, order: 4},
    {label: 'dhi', data: pts(bandIterations, p.dHi), borderColor: hidden, borderWidth: 0, pointRadius: 0, fill: '-1', backgroundColor: GREEN_BAND, order: 4},
    {label: 'slo', data: pts(bandIterations, p.sLo), borderColor: hidden, borderWidth: 0, pointRadius: 0, fill: false, order: 3},
    {label: 'shi', data: pts(bandIterations, p.sHi), borderColor: hidden, borderWidth: 0, pointRadius: 0, fill: '-1', backgroundColor: BLUE_BAND, order: 3},
    {label: seriesNames[1], data: pts(iterations, p.stn), borderColor: BLUE, borderWidth: 1.4, pointRadius: 0, fill: false, order: 2},
    {label: seriesNames[0], data: pts(iterations, p.delta), borderColor: GREEN, borderWidth: 1.4, pointRadius: 0, fill: false, order: 1},
    {label: 'Optimal', data: [{x: 0, y: p.opt}, {x: 20000, y: p.opt}], borderColor: RED, borderWidth: 1.8, pointRadius: 0, fill: false, order: 0}
  ];
  new Chart(cv, {
    type: 'line',
    data: {datasets: datasets},
    plugins: [overlay(p)],
    options: {
      responsive: false, animation: false, devicePixelRatio: 1,
      elements: {line: {tension: 0, borderJoinStyle: 'round'}, point: {radius: 0}},
      layout: {padding: {top: PT - CT, right: CR - PR, bottom: 0, left: 0}},
      plugins: {legend: {display: false}, tooltip: {enabled: false}, title: {display: false}},
      scales: {
        x: {
          type: 'linear', min: 0, max: 20000,
          afterBuildTicks: s => { s.ticks = xTicks.map(v => ({value: v})); },
          afterFit: s => { s.height = CB - PB; },
          grid: {color: GRID, drawTicks: false, lineWidth: 1},
          border: {display: false},
          ticks: {padding: 1, color: TXT, font: {size: 12}, maxRotation: 0, autoSkip: false,
                  callback: (v, i) => xTickLabels[i]},
          title: {display: true, text: 'Iteration', color: TXT, font: {size: 12.5}, padding: {top: 0, bottom: p.xTitlePad}}
        },
        y: {
          type: 'linear', min: p.yMin, max: p.yMax,
          afterBuildTicks: s => { s.ticks = p.yTicks.map(v => ({value: v})); },
          afterFit: s => { s.width = PL - CL; },
          grid: {color: GRID, drawTicks: false, lineWidth: 1},
          border: {display: false},
          ticks: {padding: 2, color: TXT, font: {size: 12}, autoSkip: false,
                  callback: (v, i) => p.yLabels[i]},
          title: {display: true, text: p.yTitle, color: TXT, font: {size: p.yTitleSize}, padding: {top: p.yTitlePad, bottom: 0}}
        }
      }
    }
  });
});
</script>
</body></html>
